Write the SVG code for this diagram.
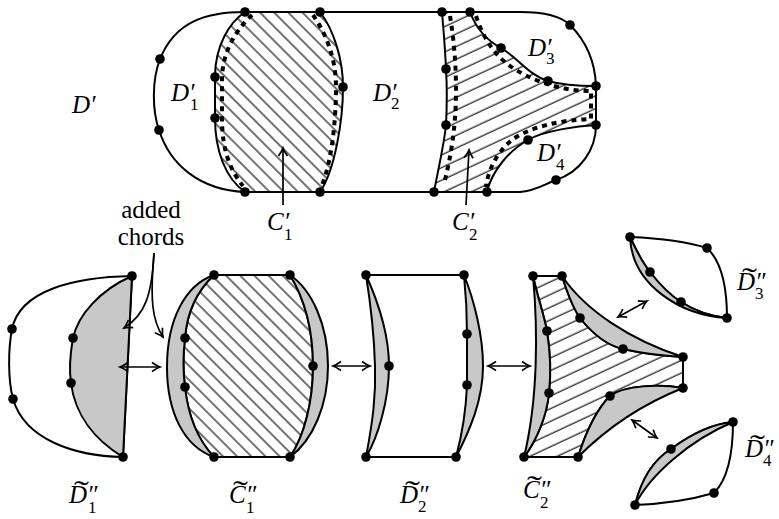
<svg xmlns="http://www.w3.org/2000/svg" width="779" height="519" viewBox="0 0 779 519">
<style>
.ln{fill:none;stroke:#000;stroke-width:2;stroke-linejoin:round}
.wh{fill:#fff;stroke:#000;stroke-width:2;stroke-linejoin:round}
.gr{fill:#c8c8c8;stroke:#000;stroke-width:2;stroke-linejoin:round}
.h45{fill:url(#p45);stroke:#000;stroke-width:2;stroke-linejoin:round}
.h25{fill:url(#p25);stroke:#000;stroke-width:2;stroke-linejoin:round}
.ds{fill:none;stroke:#000;stroke-width:4;stroke-dasharray:5 5}
.ar{fill:none;stroke:#000;stroke-width:1.7;marker-end:url(#ah)}
.ar2{fill:none;stroke:#000;stroke-width:1.7;marker-start:url(#ah);marker-end:url(#ah)}
.it{font-family:"Liberation Serif","DejaVu Serif",serif;font-style:italic;font-size:25px}
.sub{font-family:"Liberation Serif","DejaVu Serif",serif;font-style:normal;font-size:17px}
.td{font-family:"Liberation Serif","DejaVu Serif",serif;font-style:normal;font-size:30px}
.tx{font-family:"Liberation Serif","Times New Roman",serif;font-size:25px}
</style>
<defs>
<pattern id="p45" width="10" height="10" patternUnits="userSpaceOnUse" patternTransform="rotate(45)">
<line x1="0" y1="5" x2="10" y2="5" stroke="#000" stroke-width="1.1"/>
</pattern>
<pattern id="p25" width="12" height="11.5" patternUnits="userSpaceOnUse" patternTransform="rotate(-25)">
<line x1="0" y1="5" x2="12" y2="5" stroke="#000" stroke-width="1.1"/>
</pattern>
<marker id="ah" viewBox="-10 -6 12 12" markerWidth="12" markerHeight="12" refX="0" refY="0" orient="auto-start-reverse" markerUnits="userSpaceOnUse">
<path d="M-8,-4.5 Q-3,-1 0,0 Q-3,1 -8,4.5" fill="none" stroke="#000" stroke-width="1.7"/>
</marker>
<circle id="dt" r="4.8" fill="#000"/>
</defs>

<g id="node-top">
<path class="h45" d="M245,12 L320,12 C334,30 343,60 343,87 C343,120 335,170 320,192 L245,192 C225,178 215,150 215,118 L215,77 C215,45 230,22 245,12 Z"/>
<path class="h25" d="M442,12 L470,12 C476,28 486,40 501,48 C518,58 530,76 548,81 C562,85 580,86 596,86 L596,125 C580,126 545,130 528,140 C510,150 492,170 487,192 L434,192 C438,170 444,145 446,125 C447,105 447,85 446,69 C445,45 443,25 442,12 Z"/>
<path class="ln" d="M245,12 L520,12 C545,12 562,17 570,25 C585,40 595,60 596,86 L596,125 C596,150 580,172 556,180 C545,184 535,191 520,192 L245,192 C200,190 170,165 159,130 C152,110 152,80 160,59 C175,22 205,12 245,12 Z"/>
<path class="ds" d="M252,15 C238,28 222,50 222,80 L222,118 C222,150 230,170 243,186"/>
<path class="ds" d="M313,15 C327,35 336,60 336,87 C336,120 332,160 322,185"/>
<path class="ds" d="M450,16 C454,40 456,65 456,90 C456,130 450,160 444,184"/>
<path class="ds" d="M476,16 C484,40 495,55 510,66 C530,80 560,91 591,91 L591,119 C560,120 530,127 512,140 C497,152 488,170 486,187"/>
<use href="#dt" x="245" y="12"/><use href="#dt" x="320" y="12"/><use href="#dt" x="245" y="192"/><use href="#dt" x="320" y="192"/>
<use href="#dt" x="160" y="59"/><use href="#dt" x="159" y="130"/><use href="#dt" x="215" y="77"/><use href="#dt" x="215" y="118"/>
<use href="#dt" x="343" y="87"/><use href="#dt" x="442" y="12"/><use href="#dt" x="470" y="12"/><use href="#dt" x="501" y="48"/>
<use href="#dt" x="548" y="81"/><use href="#dt" x="570" y="25"/><use href="#dt" x="596" y="86"/><use href="#dt" x="596" y="125"/>
<use href="#dt" x="446" y="69"/><use href="#dt" x="446" y="125"/><use href="#dt" x="528" y="140"/><use href="#dt" x="556" y="180"/>
<use href="#dt" x="434" y="192"/><use href="#dt" x="487" y="192"/>
<text class="it" x="72" y="113">D′</text>
<text class="it" x="171" y="101">D′<tspan class="sub" x="190" y="110">1</tspan></text>
<text class="it" x="373" y="101">D′<tspan class="sub" x="391" y="109">2</tspan></text>
<text class="it" x="528" y="56">D′<tspan class="sub" x="546" y="64">3</tspan></text>
<text class="it" x="537" y="161">D′<tspan class="sub" x="556" y="170">4</tspan></text>
<text class="it" x="267" y="230">C′<tspan class="sub" x="284" y="240">1</tspan></text>
<text class="it" x="452" y="230">C′<tspan class="sub" x="469" y="240">2</tspan></text>
</g>

<g id="node-D1">
<path class="wh" d="M132,276 C75,277 20,290 12,329 C8,350 8,380 13,399 C25,440 75,456 123,457 L132,276 Z"/>
<path class="gr" d="M132,276 C100,290 78,315 73,338 C70,355 69,370 71,383 C75,415 95,440 123,457 L132,276 Z"/>
<use href="#dt" x="132" y="276"/><use href="#dt" x="123" y="457"/><use href="#dt" x="12" y="329"/><use href="#dt" x="13" y="399"/>
<use href="#dt" x="73" y="338"/><use href="#dt" x="71" y="383"/>
<text class="it" x="69" y="503">D″<tspan class="sub" x="88" y="513">1</tspan><tspan class="td" x="74" y="501" textLength="15" lengthAdjust="spacingAndGlyphs">˜</tspan></text>
<text class="tx" x="151" y="218" text-anchor="middle">added</text>
<text class="tx" x="151" y="245" text-anchor="middle">chords</text>
</g>

<g id="node-C1">
<path class="h45" d="M214,275 L290,275 C304,298 313,330 313,366 C313,400 305,435 290,457 L214,457 C198,440 188,415 185,387 C183,372 183,355 185,338 C187,312 198,290 214,275 Z"/>
<path class="gr" d="M214,275 C185,285 167,320 167,367 C167,414 185,447 214,457 C198,440 188,415 185,387 C183,372 183,355 185,338 C187,312 198,290 214,275 Z"/>
<path class="gr" d="M290,275 C312,290 328,325 328,366 C328,405 313,440 290,457 C305,435 313,400 313,366 C313,330 304,298 290,275 Z"/>
<use href="#dt" x="214" y="275"/><use href="#dt" x="290" y="275"/><use href="#dt" x="214" y="457"/><use href="#dt" x="290" y="457"/>
<use href="#dt" x="313" y="366"/><use href="#dt" x="185" y="338"/><use href="#dt" x="185" y="387"/>
<text class="it" x="229" y="503">C″<tspan class="sub" x="246" y="513">1</tspan><tspan class="td" x="233" y="501" textLength="15" lengthAdjust="spacingAndGlyphs">˜</tspan></text>
</g>

<g id="node-D2">
<path class="ln" d="M366,275 L464,275 M366,457 L456,457"/>
<path class="gr" d="M366,275 C375,295 389,330 389,366 C389,400 378,437 366,457 C373,420 376,395 375,366 C374,330 370,300 366,275 Z"/>
<path class="gr" d="M464,275 C474,300 483,335 483,366 C483,400 470,430 456,457 C462,435 466,410 467,385 L467,334 C467,315 466,295 464,275 Z"/>
<use href="#dt" x="366" y="275"/><use href="#dt" x="464" y="275"/><use href="#dt" x="366" y="457"/><use href="#dt" x="456" y="457"/>
<use href="#dt" x="389" y="366"/><use href="#dt" x="467" y="334"/><use href="#dt" x="467" y="385"/>
<text class="it" x="400" y="503">D″<tspan class="sub" x="418" y="512">2</tspan><tspan class="td" x="405" y="501" textLength="15" lengthAdjust="spacingAndGlyphs">˜</tspan></text>
</g>

<g id="node-C2">
<path class="h25" d="M533,276 L562,276 C568,295 573,308 580,318 C592,333 605,345 623,349 C645,354 665,356 683,357 L683,388 C660,384 625,385 610,396 C596,410 585,435 578,457 L524,457 C537,440 547,415 549,393 C551,375 550,350 547,331 C544,315 537,295 533,276 Z"/>
<path class="gr" d="M562,276 C585,310 630,340 683,357 C665,356 645,354 623,349 C605,345 592,333 580,318 C573,308 568,295 562,276 Z"/>
<path class="gr" d="M578,457 C605,430 640,405 683,388 C660,384 625,385 610,396 C596,410 585,435 578,457 Z"/>
<path class="gr" d="M533,276 C538,330 538,400 524,457 C537,440 547,415 549,393 C551,375 550,350 547,331 C544,315 537,295 533,276 Z"/>
<use href="#dt" x="533" y="276"/><use href="#dt" x="562" y="276"/><use href="#dt" x="547" y="331"/><use href="#dt" x="549" y="393"/>
<use href="#dt" x="524" y="457"/><use href="#dt" x="578" y="457"/><use href="#dt" x="580" y="318"/><use href="#dt" x="623" y="349"/>
<use href="#dt" x="683" y="357"/><use href="#dt" x="683" y="388"/><use href="#dt" x="610" y="396"/>
<text class="it" x="523" y="498">C″<tspan class="sub" x="540" y="508">2</tspan><tspan class="td" x="527" y="496" textLength="15" lengthAdjust="spacingAndGlyphs">˜</tspan></text>
</g>

<g id="node-D3">
<path class="wh" d="M630,237 C655,238 685,241 707,248 C720,260 727,285 727,318 C710,316 695,311 681,302 C670,295 660,285 650,272 C642,262 636,250 630,237 Z"/>
<path class="gr" d="M630,237 C636,250 642,262 650,272 C660,285 670,295 681,302 C695,311 710,316 727,318 C680,315 632,285 630,237 Z"/>
<use href="#dt" x="630" y="237"/><use href="#dt" x="707" y="248"/><use href="#dt" x="727" y="318"/><use href="#dt" x="650" y="272"/><use href="#dt" x="681" y="302"/>
<text class="it" x="737" y="290">D″<tspan class="sub" x="755" y="299">3</tspan><tspan class="td" x="742" y="288" textLength="15" lengthAdjust="spacingAndGlyphs">˜</tspan></text>
</g>

<g id="node-D4">
<path class="wh" d="M635,505 C660,504 690,500 714,493 C727,480 733,455 733,422 C710,424 690,435 671,449 C650,462 640,485 635,505 Z"/>
<path class="gr" d="M635,505 C640,485 650,462 671,449 C690,435 710,424 733,422 C690,440 650,475 635,505 Z"/>
<use href="#dt" x="733" y="422"/><use href="#dt" x="671" y="449"/><use href="#dt" x="714" y="493"/><use href="#dt" x="635" y="505"/>
<text class="it" x="745" y="457">D″<tspan class="sub" x="763" y="466">4</tspan><tspan class="td" x="750" y="455" textLength="15" lengthAdjust="spacingAndGlyphs">˜</tspan></text>
</g>

<g id="connectors">
<path class="ar" d="M283,205 L283,148"/>
<path class="ar" d="M466,205 L469,150"/>
<path class="ar" d="M154,253 C152,295 145,315 124,328"/>
<path class="ar" d="M154,253 C150,300 152,320 163,337"/>
<path class="ar2" d="M120,367 L160,367"/>
<path class="ar2" d="M333,366 L370,366"/>
<path class="ar2" d="M488,366 L530,366"/>
<path class="ar2" d="M618,317 L647,301"/>
<path class="ar2" d="M632,420 L657,438"/>
</g>
</svg>
